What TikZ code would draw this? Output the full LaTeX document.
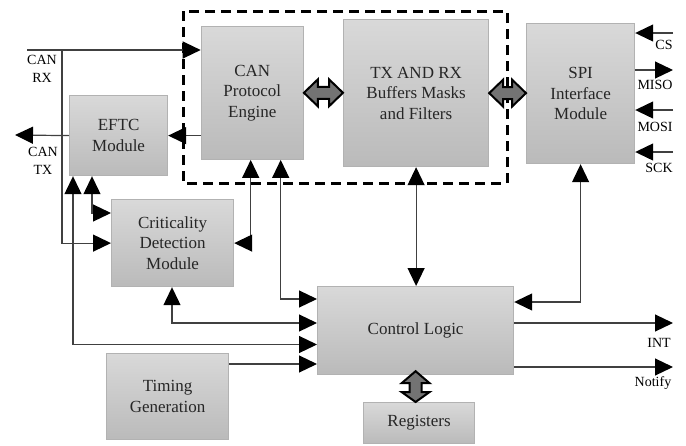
\documentclass[tikz,border=0pt]{standalone}
\usepackage{fontspec}
\setmainfont{Liberation Serif}
\usetikzlibrary{arrows.meta,calc}

% wide outlined double arrows (horizontal and vertical)
\newcommand\hfat[2]{%
  \draw[fat] let \p1=(#1), \p2=(#2) in
    (\x1,\y1) -- (\x1+14pt,\y1+13.5pt) -- (\x1+14pt,\y1+6pt) -- (\x2-14pt,\y1+6pt)
    -- (\x2-14pt,\y1+13.5pt) -- (\x2,\y1) -- (\x2-14pt,\y1-13.5pt) -- (\x2-14pt,\y1-6pt)
    -- (\x1+14pt,\y1-6pt) -- (\x1+14pt,\y1-13.5pt) -- cycle;}
\newcommand\vfat[2]{%
  \draw[fat] let \p1=(#1), \p2=(#2) in
    (\x1,\y1+4pt) -- (\x1+14pt,\y1-8pt) -- (\x1+6pt,\y1-8pt) -- (\x1+6pt,\y2+10pt)
    -- (\x1+14pt,\y2+10pt) -- (\x1,\y2) -- (\x1-14pt,\y2+10pt) -- (\x1-6pt,\y2+10pt)
    -- (\x1-6pt,\y1-8pt) -- (\x1-14pt,\y1-8pt) -- cycle;}

\tikzset{
  blk/.style={draw=black!30, line width=1.2pt, top color=black!15, bottom color=black!27,
    align=center, font=\fontsize{17}{20.5}\selectfont, text=black!85,
    anchor=north west, inner sep=0pt},
  wire/.style={draw=black!75, line width=1.2pt},
  bigtip/.tip={Triangle[length=18pt,width=17pt,color=black]},
  arr/.style={wire, -bigtip},
  arr2/.style={wire, bigtip-bigtip},
  lbl/.style={font=\fontsize{14}{18}\selectfont, align=center, inner sep=0pt},
  fat/.style={draw=black, line width=2pt, fill=black!55, line join=miter},
  group/.style={draw=black, line width=3pt, dash pattern=on 10pt off 6pt},
}

\begin{document}
\begin{tikzpicture}[x=1pt,y=-1pt]
\useasboundingbox (0,0) rectangle (686,445);

% dashed group around the protocol engine and buffers
\draw[group] (183,11) rectangle (507,183);

% blocks
\node[blk, minimum width=102pt, minimum height=133pt] (cpe) at (200.7,25.7) {CAN\\Protocol\\Engine};
\node[blk, minimum width=145pt, minimum height=147pt] (buf) at (343,19) {TX AND RX\\Buffers Masks\\and Filters};
\node[blk, minimum width=108pt, minimum height=140pt] (spi) at (526,23) {SPI\\Interface\\Module};
\node[blk, minimum width=98pt, minimum height=80pt] (eftc) at (69,95) {EFTC\\Module};
\node[blk, minimum width=122pt, minimum height=87pt] (crit) at (111,199) {Criticality\\Detection\\Module};
\node[blk, minimum width=122pt, minimum height=86pt] (tim) at (106,353) {Timing\\Generation};
\node[blk, minimum width=196pt, minimum height=88pt] (cl) at (317,286) {Control Logic};
\node[blk, minimum width=111pt, minimum height=41pt] (reg) at (363,402) {Registers};

% free ends of the external signals
\coordinate (rxin) at (27,50);
\coordinate (rxj) at (62,50);
\coordinate (txout) at (15,135);
\coordinate (cs) at (673,33);
\coordinate (miso) at (673,70);
\coordinate (mosi) at (673,110);
\coordinate (sck) at (673,152);
\coordinate (intout) at (673,323);
\coordinate (ntfout) at (673,367);

% CAN bus side
\draw[arr] (rxin) -- (rxin -| cpe.west);
\draw[arr] (rxj) |- (crit.west);
\draw[arr] (eftc.west) -- (txout);
\draw[arr] (cpe.west |- eftc.east) -- (eftc.east);

% links among the blocks
\draw[arr2] ([xshift=23pt]eftc.south west) |- ([yshift=-14pt]crit.north west);
\draw[arr2] ([xshift=4pt]eftc.south west) |- ([yshift=-58.5pt]cl.north west);
\draw[arr2] ([xshift=50pt]cpe.south west) |- (crit.east);
\draw[arr2] ([xshift=80pt]cpe.south west) |- ([yshift=-13pt]cl.north west);
\draw[arr2] ([xshift=61pt]crit.south west) |- ([yshift=-37pt]cl.north west);
\draw[arr] ([yshift=-11pt]tim.north east) -- ([yshift=-78pt]cl.north west);
\draw[arr2] (buf.south) -- (buf.south |- cl.north);
\draw[arr2] (spi.south) |- ([yshift=-16pt]cl.north east);

% outputs of the control logic
\draw[arr] (intout -| cl.east) -- (intout);
\draw[arr] (ntfout -| cl.east) -- (ntfout);

% SPI pins
\draw[arr] (cs) -- (cs -| spi.east);
\draw[arr] (miso -| spi.east) -- (miso);
\draw[arr] (mosi) -- (mosi -| spi.east);
\draw[arr] (sck) -- (sck -| spi.east);

% wide data paths
\hfat{cpe.east}{buf.west}
\hfat{buf.east}{spi.west}
\vfat{cl.south}{reg.north}

% signal names
\node[lbl] (rxl) at (42,69) {CAN\\RX};
\node[lbl] (txl) at (43,161) {CAN\\TX};
\node[lbl] (csl) at (664,45) {CS};
\node[lbl] (misol) at (655,85) {MISO};
\node[lbl] (mosil) at (655,127) {MOSI};
\node[lbl] (sckl) at (659,168) {SCK};
\node[lbl] (intl) at (659,343) {INT};
\node[lbl] (ntfl) at (653,383) {Notify};
\end{tikzpicture}
\end{document}
